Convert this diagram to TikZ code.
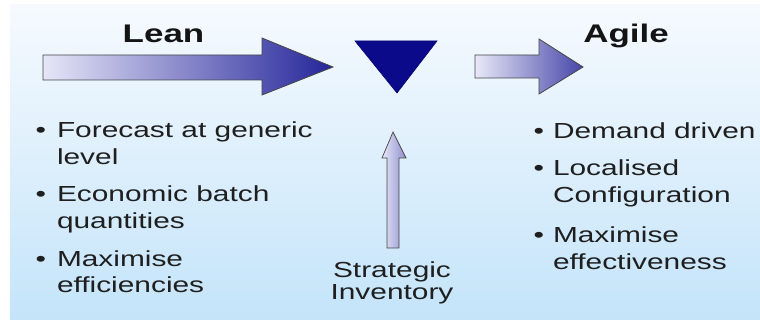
\documentclass[tikz,border=0pt]{standalone}
\usepackage{fontspec}
\newfontfamily\arfont{Liberation Sans}[FakeStretch=1.37]
\begin{document}
\begin{tikzpicture}[x=1pt,y=-1pt,
  txt/.style={inner sep=0pt,outer sep=0pt,anchor=base west,text=black!88,font=\arfont\fontsize{21.8}{26}\selectfont},
  ctxt/.style={txt,anchor=base},
  head/.style={inner sep=0pt,outer sep=0pt,anchor=base,text=black!92,font=\arfont\bfseries\fontsize{25.5}{30}\selectfont},
  blockarrow/.style={draw=black!72,line width=0.8pt,line join=miter}
]
\definecolor{bgtop}{HTML}{F6FAFE}
\definecolor{bgbot}{HTML}{C4E4FA}
\definecolor{arlight}{HTML}{E6E6F8}
\definecolor{ardark}{HTML}{25259A}
\definecolor{navy}{HTML}{0A0A8A}
\useasboundingbox (0,0) rectangle (760,320);
\fill[white] (0,0) rectangle (760,320);
\shade[top color=bgtop,bottom color=bgbot] (10,5) rectangle (760,320);

% Lean arrow
\path[blockarrow,left color=arlight,right color=ardark]
  (43,55) -- (262,55) -- (262,38) -- (333,67) -- (262,95) -- (262,80) -- (43,80) -- cycle;
% Agile arrow
\path[blockarrow,left color=arlight!90!white,right color=ardark!85!white]
  (475,55) -- (539,55) -- (539,39) -- (583,67) -- (539,94) -- (539,78) -- (475,78) -- cycle;
% triangle
\path[draw=navy!80!black,fill=navy,line width=0.6pt,line join=miter] (355,41) -- (437,41) -- (397,93) -- cycle;
% up arrow
\path[blockarrow,line width=0.7pt,left color=arlight,right color=arlight!55!ardark]
  (387,248) -- (387,158) -- (382,158) -- (393,132) -- (406,158) -- (399,158) -- (399,248) -- cycle;

\node[head] (lean) at (163.5,43) {Lean};
\node[head] (agile) at (626,43) {Agile};

% left bullets
\node[txt] (lb1) at (35.5,138) {•};
\node[txt] (l1a) at (57,138) {Forecast at generic};
\node[txt] (l1b) at (57,165) {level};
\node[txt] (lb2) at (35.5,202) {•};
\node[txt] (l2a) at (57,202) {Economic batch};
\node[txt] (l2b) at (57,229) {quantities};
\node[txt] (lb3) at (35.5,266) {•};
\node[txt] (l3a) at (57,266) {Maximise};
\node[txt] (l3b) at (57,293) {efficiencies};

% right bullets
\node[txt] (rb1) at (533.5,139) {•};
\node[txt] (r1a) at (553,139) {Demand driven};
\node[txt] (rb2) at (533.5,176) {•};
\node[txt] (r2a) at (553,176) {Localised};
\node[txt] (r2b) at (553,203) {Configuration};
\node[txt] (rb3) at (533.5,243) {•};
\node[txt] (r3a) at (553,243) {Maximise};
\node[txt] (r3b) at (553,270) {effectiveness};

% strategic inventory
\node[ctxt] (s1) at (392,277) {Strategic};
\node[ctxt] (s2) at (392,299) {Inventory};
\end{tikzpicture}
\end{document}
